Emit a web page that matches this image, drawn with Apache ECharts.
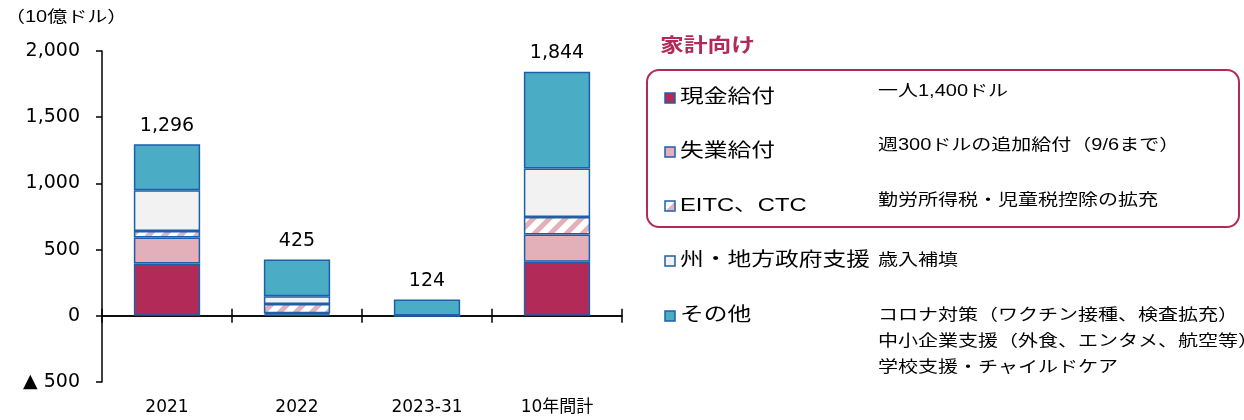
<!DOCTYPE html>
<html>
<head>
<meta charset="utf-8">
<script src="https://cdn.jsdelivr.net/npm/echarts@6/dist/echarts.min.js"></script>
<style>
  html, body { margin: 0; padding: 0; background: #fff; }
  #chart { width: 1244px; height: 420px; }
</style>
</head>
<body>
<div id="chart"></div>
<script>
const categories = ['2021', '2022', '2023-31', '10年間計']
const cash = [395, 11, 0, 408]
const unemployment = [196, 8, 0, 206]
const eitc = [50, 70, 3, 133]
const stateLocal = [307, 58, 0, 365]
const other = [348, 278, 121, 732]
const totals = [1296, 425, 124, 1844]

const seriesNames = ['現金給付', '失業給付', 'EITC、CTC', '州・地方政府支援', 'その他']
const descriptions = [
  ['一人1,400ドル'],
  ['週300ドルの追加給付（9/6まで）'],
  ['勤労所得税・児童税控除の拡充'],
  ['歳入補填'],
  ['コロナ対策（ワクチン接種、検査拡充）', '中小企業支援（外食、エンタメ、航空等）', '学校支援・チャイルドケア']
]

const NUM_FONT = '"DejaVu Sans", "Noto Sans CJK JP", sans-serif'
const JP_FONT = '"Liberation Sans", "Noto Sans CJK JP", sans-serif'
const BORDER = '#1f5fa8'
const STRETCH = 1.25

// diagonal pink hatch for EITC/CTC
function hatch() {
  const c = document.createElement('canvas')
  c.width = 16
  c.height = 16
  const g = c.getContext('2d')
  g.fillStyle = '#fff'
  g.fillRect(0, 0, 16, 16)
  g.strokeStyle = '#e3b0b9'
  g.lineWidth = 5
  g.beginPath()
  g.moveTo(-8, 8); g.lineTo(8, -8)
  g.moveTo(0, 16); g.lineTo(16, 0)
  g.moveTo(8, 24); g.lineTo(24, 8)
  g.stroke()
  return { image: c, repeat: 'repeat' }
}

const fills = ['#b22b58', '#e3b0b9', hatch(), '#f2f2f2', '#4bacc6']
const values = [cash, unemployment, eitc, stateLocal, other]

const fmt = (v) => (v < 0 ? '▲ ' : '') + Math.abs(v).toLocaleString('en-US')

const chart = echarts.init(document.getElementById('chart'), null, {
  renderer: 'canvas',
  width: 1244,
  height: 420,
})

const series = values.map((vals, i) => ({
  name: seriesNames[i],
  type: 'bar',
  stack: 'total',
  barWidth: '51%',
  data: vals,
  itemStyle: { color: fills[i], borderColor: BORDER, borderWidth: 1.5 },
  label: i === 4 ? {
    show: true,
    position: 'top',
    distance: 9,
    formatter: (p) => fmt(totals[p.dataIndex]),
    fontFamily: NUM_FONT,
    fontSize: 19,
    color: '#000',
  } : { show: false },
}))

// legend block on the right (text is drawn wide, as in the source)
const stretched = (x, y, text, font, fill) => ({
  type: 'text', x, y, scaleX: STRETCH,
  style: { text, font, fill: fill || '#000', verticalAlign: 'middle' },
})
const rowY = [98, 152, 206, 261, 316]
const descY = [[92], [146], [201], [261], [316, 342, 368]]
const graphics = [
  stretched(5, 18, '（10億ドル）', '16px ' + JP_FONT),
  stretched(660, 47, '家計向け', 'bold 19px ' + JP_FONT, '#b22b58'),
  {
    type: 'rect', shape: { x: 647, y: 70, width: 592, height: 157, r: 12 },
    style: { fill: 'none', stroke: '#b22b58', lineWidth: 2 },
  },
]
seriesNames.forEach((name, i) => {
  graphics.push({
    type: 'rect', shape: { x: 665, y: rowY[i] - 5, width: 10, height: 10 },
    style: { fill: fills[i], stroke: BORDER, lineWidth: 1.5 },
  })
  graphics.push(stretched(680, rowY[i], name, '19px ' + JP_FONT))
  descriptions[i].forEach((d, j) => {
    graphics.push(stretched(878, descY[i][j], d, '16px ' + JP_FONT))
  })
})

const lineStyle = { color: '#000', width: 1.5 }

const option = {
  animation: false,
  backgroundColor: '#fff',
  grid: { left: 102, right: 622, top: 51, bottom: 38, containLabel: false, outerBoundsMode: 'none' },
  xAxis: [
    {
      // zero line, ticks below
      type: 'category',
      data: categories,
      position: 'bottom',
      axisLine: { onZero: true, lineStyle },
      axisTick: { show: true, length: 7, lineStyle },
      axisLabel: { show: false },
    },
    {
      // same line, ticks above
      type: 'category',
      data: categories,
      position: 'top',
      axisLine: { onZero: true, onZeroAxisIndex: 0, lineStyle },
      axisTick: { show: true, length: 7, lineStyle },
      axisLabel: { show: false },
    },
    {
      // category labels at the grid bottom
      type: 'category',
      data: categories,
      position: 'bottom',
      axisLine: { show: false, onZero: false },
      axisTick: { show: false },
      axisLabel: { margin: 17, fontFamily: NUM_FONT, fontSize: 17, color: '#000' },
    },
  ],
  yAxis: {
    type: 'value',
    min: -500,
    max: 2000,
    interval: 500,
    splitLine: { show: false },
    axisLine: { show: true, lineStyle },
    axisTick: { show: true, length: 6, lineStyle },
    axisLabel: { formatter: fmt, fontFamily: NUM_FONT, fontSize: 19, color: '#000', margin: 22 },
  },
  graphic: graphics,
  series,
}
chart.setOption(option)
</script>
</body>
</html>
